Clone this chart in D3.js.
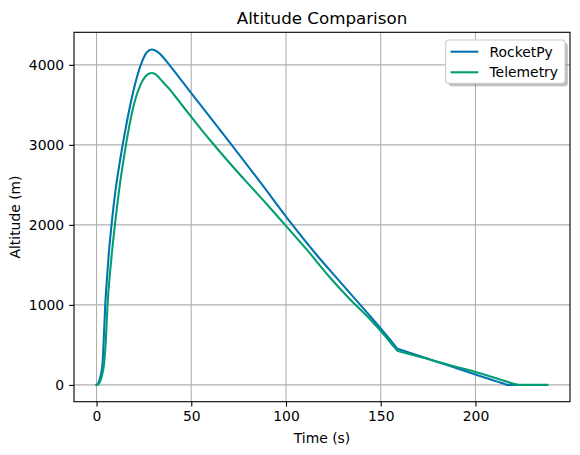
<!DOCTYPE html>
<html><head><meta charset="utf-8">
<script src="https://cdn.jsdelivr.net/npm/d3@7"></script>
<style>
body{margin:0;background:#fff;}
text{font-family:"DejaVu Sans",sans-serif;fill:#000;}
</style></head>
<body>
<svg id="chart" width="580" height="455"></svg>
<script>
// ---- data ----
const rocketpyTime = [0,1,2,2.7,3.2,3.9,4.6,5.5,6.5,7.9,10,12.5,15,18,21,24,26.5,29,31,33,35,38.4,50.3,71.3,87,103.4,116,128.1,144,157.5,158.8,160,180,200,215.8,216.9,222];
const rocketpyAlt  = [0,25,100,180,280,620,1000,1330,1650,2000,2430,2820,3160,3520,3820,4040,4155,4192,4180,4148,4098,4000,3636,3000,2515,2000,1630,1300,870,490,452,443,287,131,9,0,0];
const telemetryTime = [0,1,2,3,4,5,5.8,7.5,9.7,12,14.5,17,20,23,26,29,31,33,35,38.4,42,46,50.3,55,60.4,70,80,90,99.5,111,123.3,134,144,152,157.5,158.8,160,180,190,200,211,221,222.2,230,238];
const telemetryAlt  = [0,10,50,130,270,600,1000,1500,2000,2450,2850,3200,3530,3740,3860,3898,3885,3840,3785,3700,3592,3470,3340,3200,3045,2780,2515,2255,2000,1690,1340,1065,830,620,462,427,419,290,225,162,82,8,0,0,0];
const xTicks = [0,50,100,150,200];
const yTicks = [0,1000,2000,3000,4000];
const seriesNames = ["RocketPy","Telemetry"];
const seriesColors = ["#0173b2","#029e73"];

const svg = d3.select("#chart");
const L=74,R=570,T=32.3,B=401.7;
const xMin=0,xMax=238,yMin=0,yMax=4197;
const xPad=(xMax-xMin)*0.05, yPad=(yMax-yMin)*0.05;
const x=d3.scaleLinear().domain([xMin-xPad,xMax+xPad]).range([L,R]);
const y=d3.scaleLinear().domain([yMin-yPad,yMax+yPad]).range([B,T]);

// grid
const g=svg.append("g");
g.selectAll(".gx").data(xTicks).enter().append("line")
 .attr("x1",d=>x(d)).attr("x2",d=>x(d)).attr("y1",T).attr("y2",B)
 .attr("stroke","#b0b0b0").attr("stroke-width",1.1);
g.selectAll(".gy").data(yTicks).enter().append("line")
 .attr("y1",d=>y(d)).attr("y2",d=>y(d)).attr("x1",L).attr("x2",R)
 .attr("stroke","#b0b0b0").attr("stroke-width",1.1);

// lines
const series=[
  rocketpyTime.map((t,i)=>[t,rocketpyAlt[i]]),
  telemetryTime.map((t,i)=>[t,telemetryAlt[i]])
];
const line=d3.line().x(d=>x(d[0])).y(d=>y(d[1])).curve(d3.curveMonotoneX);
series.forEach((s,i)=>{
  svg.append("path").datum(s).attr("d",line).attr("fill","none")
   .attr("stroke",seriesColors[i]).attr("stroke-width",2.08)
   .attr("stroke-linejoin","round").attr("stroke-linecap","square");
});

// axes
const xAxis=d3.axisBottom(x).tickValues(xTicks).tickSize(4.9).tickPadding(4.9).tickFormat(d3.format("d"));
const yAxis=d3.axisLeft(y).tickValues(yTicks).tickSize(4.9).tickPadding(4.9).tickFormat(d3.format("d"));
const gx=svg.append("g").attr("transform",`translate(0,${B})`).call(xAxis);
const gy=svg.append("g").attr("transform",`translate(${L},0)`).call(yAxis);
[gx,gy].forEach(a=>{
  a.select(".domain").remove();
  a.selectAll("line").attr("stroke","#000").attr("stroke-width",1.1);
  a.selectAll("text").style("font-family","DejaVu Sans").style("font-size","13.9px").attr("fill","#000");
});
gy.selectAll("text").attr("dy","0.36em");
// frame
svg.append("rect").attr("x",L).attr("y",T).attr("width",R-L).attr("height",B-T)
 .attr("fill","none").attr("stroke","#000").attr("stroke-width",1.1);

// labels
svg.append("text").attr("x",(L+R)/2).attr("y",24).attr("text-anchor","middle")
 .style("font-size","16.7px").text("Altitude Comparison");
svg.append("text").attr("x",(L+R)/2).attr("y",443).attr("text-anchor","middle")
 .style("font-size","13.9px").text("Time (s)");
svg.append("text").attr("transform",`translate(20,${(T+B)/2}) rotate(-90)`).attr("text-anchor","middle")
 .style("font-size","13.9px").text("Altitude (m)");

// legend
const lg=svg.append("g");
lg.append("rect").attr("x",448.5).attr("y",43).attr("width",119.3).attr("height",43.3).attr("rx",3)
 .attr("fill","#808080").attr("opacity",0.5);
lg.append("rect").attr("x",445.7).attr("y",40).attr("width",119.3).attr("height",43.3).attr("rx",3)
 .attr("fill","#fff").attr("stroke","#cccccc").attr("stroke-width",1.1);
seriesNames.forEach((n,i)=>{
  const yy=[51.7,72.3][i];
  lg.append("line").attr("x1",450.5).attr("x2",478.3).attr("y1",yy).attr("y2",yy)
   .attr("stroke",seriesColors[i]).attr("stroke-width",2.08);
  lg.append("text").attr("x",489.5).attr("y",yy).attr("dy","0.36em").style("font-size","13.9px").text(n);
});
</script>
</body></html>
